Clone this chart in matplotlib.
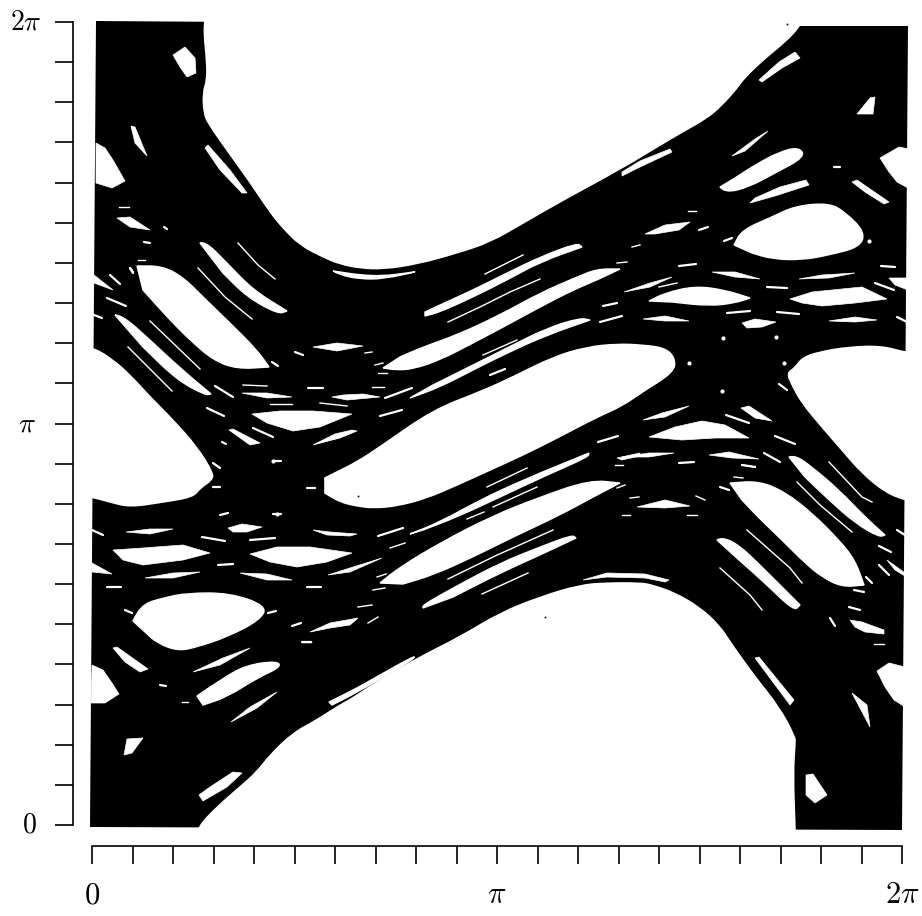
import numpy as np
import matplotlib
matplotlib.use('Agg')
import matplotlib.pyplot as plt
from matplotlib.path import Path
from matplotlib.patches import PathPatch

plt.rcParams['mathtext.fontset'] = 'cm'
plt.rcParams['font.family'] = 'serif'

# everything below is read off the scan, (x, y) in scan units
# x: 92 -> 0, 902 -> 2pi    y: 825 -> 0, 22 -> 2pi
chaotic_sea = [(96,21),(800,26),(908,26),(902,830),(90,827)]

# regular regions, large
upper_island = [(205,16),(205,21),(204,33),(207,63),(207,80),(203,93),(204,113),(208,123),(227,150),(250,182),
    (270,212),(283,228),(300,245),(323,257),(340,264),(360,268),(383,269),(417,264),(457,253),(490,242),
    (523,223),(563,200),(622,168),(655,148),(682,132),(707,118),(722,105),(737,88),(744,78),(765,58),
    (785,42),(800,26),(800,20)]
lower_island = [(198,833),(198,827),(217,807),(240,787),(257,772),(270,755),(293,733),(317,720),(340,705),(350,700),
    (380,680),(420,657),(460,637),(500,613),(540,597),(580,585),(607,583),(640,583),(652,585),(675,593),
    (699,607),(719,625),(732,645),(755,677),(779,707),(795,737),(795,743),(793,773),(795,830),(795,835)]
left_island = [(88,348),(94,348),(113,360),(130,375),(150,397),(173,420),(197,447),(213,473),(212,480),(200,488),
    (193,497),(163,502),(130,507),(110,502),(92,497),(87,497)]
right_island = [(913,353),(907,353),(882,346),(849,347),(819,352),(802,358),(795,368),(787,373),(792,385),(802,403),
    (822,427),(842,450),(862,473),(885,492),(905,500),(911,500)]
centre_island = [(325,478),(337,472),(357,462),(380,447),(433,410),(480,392),(513,377),(553,357),(587,347),
    (617,344),(642,345),(665,348),(675,358),(674,372),(642,392),(622,406),(597,417),(557,438),(523,455),
    (490,470),(457,485),(427,498),(397,506),(373,508),(357,506),(340,502),(325,493)]
large_islands = [upper_island, lower_island, left_island, right_island, centre_island]

# vertices that stay sharp when an outline is rounded
tips = [(383,368),(620,269),(269,367),(137,266),(730,483),(864,585),(380,583),(620,483),(885,535),(800,605),
    (211,394),(287,311),(649,301),(750,298),(790,299),(887,299),(113,550),(210,553),(250,554),(352,553),
    (734,245),(589,453),(410,534),(410,398),(590,320),(582,247),(425,316),(576,538),(423,608)]

# regular regions, medium
lenses = [
    [(96,143),(105,148),(113,160),(125,181),(112,188),(96,183)],
    [(92,665),(103,670),(112,683),(119,694),(105,703),(91,703)],
    [(909,149),(899,147),(880,158),(889,172),(897,182),(908,188)],
    [(905,667),(889,663),(877,671),(885,687),(894,700),(905,707)],
    [(333,271),(340,275),(360,279),(383,279),(420,271),(407,273),(383,276),(360,275),(340,272)],
    [(425,316),(440,312),(473,297),(507,280),(540,262),(582,247),(577,243),(540,257),(507,273),(473,290),(440,305),(425,312)],
    [(383,368),(397,370),(413,369),(440,360),(473,343),(507,325),(540,307),(573,290),(597,280),(620,269),
     (597,269),(577,277),(540,293),(500,315),(457,335),(423,347),(400,357)],
    [(410,398),(440,387),(473,370),(507,353),(547,335),(590,320),(580,318),(547,328),(507,348),(467,368),(433,385)],
    [(332,397),(347,400),(380,397),(363,394),(343,395)],
    [(252,414),(267,423),(293,431),(320,427),(352,414),(313,411),(280,411)],
    [(313,445),(340,438),(357,431),(352,430),(335,434)],
    [(313,347),(337,351),(363,346),(337,343)],
    [(759,80),(762,82),(782,68),(800,58),(795,52),(779,62)],
    [(857,114),(873,114),(875,97),(870,98)],
    [(732,156),(745,151),(768,131),(755,139)],
    [(622,176),(640,167),(672,152),(670,149),(640,161),(622,172)],
    [(720,187),(725,193),(749,187),(775,173),(805,157),(799,147),(779,152),(755,165),(735,178)],
    [(750,203),(775,196),(809,185),(806,180),(780,187),(755,198)],
    [(852,182),(857,180),(889,202),(884,204),(865,192)],
    [(734,245),(742,230),(772,217),(795,206),(829,203),(845,212),(865,232),(860,247),(829,255),(802,260),(772,259),(752,253)],
    [(645,234),(665,225),(690,222),(679,230),(655,234)],
    [(712,272),(735,272),(760,279),(735,277)],
    [(799,279),(822,275),(855,273),(829,278)],
    [(889,278),(907,278),(908,290),(895,285)],
    [(624,292),(650,283),(672,277),(650,287)],
    [(649,301),(665,293),(695,286),(725,290),(750,298),(735,303),(709,306),(672,302)],
    [(790,299),(812,292),(862,287),(887,299),(855,303),(822,306),(802,303)],
    [(643,319),(665,316),(689,321),(665,321)],
    [(742,323),(755,319),(776,322),(762,327),(747,328)],
    [(829,321),(855,317),(877,320),(855,322)],
    [(643,420),(662,413),(689,406),(665,417)],
    [(741,408),(749,406),(772,421),(755,418)],
    [(649,437),(675,427),(702,421),(725,425),(749,438),(715,438),(682,440)],
    [(622,457),(649,453),(674,453),(649,457)],
    [(709,455),(729,452),(759,459),(732,458)],
    [(730,483),(759,481),(785,492),(812,513),(839,540),(855,560),(864,585),(842,587),(822,577),(805,563),(782,540),(759,518),(742,500)],
    [(789,457),(795,455),(812,467),(839,490),(865,517),(885,535),(879,537),(855,523),(829,500),(805,477)],
    [(717,540),(722,537),(739,545),(762,567),(800,605),(794,611),(765,583),(739,560)],
    [(583,580),(607,573),(645,574),(669,580),(665,582),(645,578),(607,577)],
    [(755,658),(759,657),(794,700),(790,705)],
    [(852,693),(867,705),(870,727)],
    [(850,620),(862,622),(884,630),(884,634),(865,632),(855,627)],
    [(887,560),(905,573),(905,576),(895,570)],
    [(637,507),(665,500),(690,506),(665,508)],
    [(806,775),(813,774),(827,795),(815,803),(806,795)],
    [(173,55),(185,47),(195,58),(196,73),(187,77),(180,67)],
    [(131,126),(135,127),(147,156),(135,143)],
    [(205,148),(208,145),(230,170),(247,193),(242,193),(220,170)],
    [(117,218),(130,217),(150,230),(130,227)],
    [(200,243),(205,241),(227,263),(253,290),(287,311),(278,314),(247,297),(223,273)],
    [(137,266),(162,266),(183,277),(203,297),(230,323),(257,350),(269,367),(237,369),(213,360),(190,340),(170,320),(143,290)],
    [(115,315),(122,315),(150,340),(180,368),(211,394),(205,395),(177,380),(143,347)],
    [(94,275),(113,290),(94,283)],
    [(242,393),(267,393),(292,397),(267,398)],
    [(229,430),(233,429),(260,443),(250,445)],
    [(228,528),(242,524),(262,527),(247,532),(233,532)],
    [(126,532),(150,529),(173,529),(150,534)],
    [(313,530),(330,532),(357,534),(350,536),(327,535)],
    [(113,550),(143,548),(183,545),(210,553),(183,560),(143,565),(123,560)],
    [(250,554),(277,547),(310,547),(352,553),(327,562),(297,567),(270,562)],
    [(92,563),(112,574),(92,572)],
    [(145,578),(173,573),(200,572),(173,578)],
    [(240,573),(267,574),(292,580),(267,580)],
    [(328,575),(350,568),(382,558),(350,572)],
    [(133,621),(140,605),(163,598),(187,593),(230,593),(267,606),(260,620),(227,637),(197,647),(178,651),(157,643),(145,632)],
    [(310,632),(330,623),(358,618),(350,625),(330,628)],
    [(113,648),(117,647),(148,669),(140,672),(125,662)],
    [(193,672),(223,658),(250,648),(220,665)],
    [(197,696),(223,678),(247,665),(277,661),(281,667),(257,678),(227,697),(203,705)],
    [(231,722),(250,707),(277,692),(257,708)],
    [(329,702),(350,692),(380,675),(414,656),(415,658),(382,678),(350,696),(332,705)],
    [(127,739),(143,738),(132,753),(124,755)],
    [(199,795),(210,787),(233,772),(242,773),(227,787),(203,801)],
    [(423,608),(423,605),(453,588),(500,563),(540,547),(572,535),(576,538),(540,555),(500,573),(453,597)],
    [(380,583),(400,567),(440,543),(490,517),(540,497),(590,480),(620,483),(593,497),(560,515),(513,537),(473,557),(433,575),(403,584)],
    [(410,534),(440,522),(480,500),(523,480),(589,453),(588,457),(547,475),(500,497),(457,517),(423,530)],
    [(617,458),(640,453),(640,456),(622,460)],
]

# short white flecks
flecks = [
    [(385,398),(412,388)],[(380,416),(402,410)],[(490,375),(505,369)],[(699,230),(708,227)],[(724,241),(732,238)],
    [(679,266),(696,264)],[(881,266),(895,267)],[(875,283),(894,290)],[(727,313),(750,311)],[(777,312),(799,314)],
    [(767,287),(787,288)],[(897,317),(907,322)],[(779,384),(787,390)],[(726,415),(749,423)],[(775,436),(795,444)],
    [(764,453),(780,462)],[(742,465),(755,467)],[(720,487),(729,490)],[(897,530),(905,535)],[(879,546),(891,552)],
    [(879,565),(889,575)],[(866,577),(872,583)],[(854,590),(864,592)],[(849,607),(860,610)],[(830,618),(835,626)],
    [(110,275),(120,284)],[(107,298),(126,306)],[(94,315),(102,318)],[(130,268),(133,273)],[(295,352),(303,355)],
    [(272,362),(278,366)],[(215,386),(233,397)],[(308,388),(323,388)],[(207,408),(224,416)],[(253,428),(273,437)],
    [(222,442),(226,444)],[(213,463),(220,468)],[(273,461),(281,461)],[(213,487),(220,487)],[(307,488),(315,488)],
    [(220,515),(228,513)],[(273,514),(281,514)],[(92,530),(103,535)],[(202,537),(225,541)],[(250,540),(275,538)],
    [(218,565),(233,564)],[(107,587),(121,587)],[(307,587),(321,587)],[(125,610),(132,613)],[(268,613),(276,611)],
    [(292,626),(301,623)],[(302,642),(311,642)],[(160,685),(166,686)],[(834,167),(840,167)],[(679,463),(694,462)],
    [(144,242),(150,243)],[(164,227),(167,229)],[(133,272),(130,268)],[(378,536),(403,528)],[(598,442),(618,436)],
    [(600,322),(622,316)],[(603,306),(617,303)],
]

# hair thin white lines
hairlines = [
    [(485,274),(523,255)],[(448,322),(480,307),(510,292),(540,279)],[(483,355),(517,340)],[(797,482),(820,505),(852,532)],
    [(829,462),(862,497),(872,502)],[(747,530),(790,568),(802,583)],[(720,568),(750,595),(762,610)],[(238,243),(258,265),(275,279)],
    [(198,268),(225,297),(252,319)],[(150,321),(200,369)],[(128,347),(172,391)],[(448,579),(495,556),(553,530)],
    [(487,487),(527,468)],[(493,507),(537,487)],[(467,519),(484,512)],[(482,594),(528,573)],[(390,548),(405,543)],
    [(373,590),(385,588)],[(377,577),(386,574)],[(358,607),(372,605)],[(368,623),(378,617)],[(270,404),(292,404)],
    [(320,403),(347,406)],[(243,385),(267,386)],[(119,207),(129,207)],[(138,260),(145,260)],[(622,515),(630,515)],
    [(687,515),(697,515)],[(630,498),(639,497)],[(696,496),(705,500)],[(734,477),(743,478)],[(874,644),(884,644)],
    [(182,702),(188,702)],[(302,642),(311,642)],[(365,353),(372,352)],[(375,365),(383,363)],[(378,373),(387,373)],
    [(372,387),(384,387)],[(617,263),(627,262)],[(632,247),(640,245)],[(688,211),(696,211)],[(659,287),(677,283)],
    [(615,465),(623,465)],[(617,488),(625,485)],[(742,465),(755,467)],
]

white_dots_x = [723,776,689,784,722,869,273,277]
white_dots_y = [338,337,363,363,391,241,461,514]
specks_x = [787,545,358]
specks_y = [24,617,496]

x_tick_labels = [''] * 21
x_tick_labels[0] = '$0$'
x_tick_labels[10] = r'$\pi$'
x_tick_labels[20] = r'$2\pi$'
y_label_ticks = [20, 10, 0]
y_label_text = [r'$2\pi$', r'$\pi$', '$0$']
y_label_offset = [-47.5, -47, -45]


def conv(pts):
    pts = np.array(pts, dtype=float)
    return (pts[:,0]-92)/810*2*np.pi, (825-pts[:,1])/803*2*np.pi


def rounded(poly):
    # read vertices as control points, so long outlines are not faceted
    expanded = []
    for v in poly:
        expanded.append(v)
        if v in tips:
            expanded.append(v)
    x, y = conv(expanded)
    p = np.column_stack([x, y])
    verts = [p[0]]
    codes = [Path.MOVETO]
    for i in range(1, len(p)-1):
        verts += [p[i], (p[i]+p[i+1])/2]
        codes += [Path.CURVE3, Path.CURVE3]
    verts += [p[-1], p[0]]
    codes += [Path.LINETO, Path.CLOSEPOLY]
    return Path(verts, codes)


fig = plt.figure(figsize=(9.22,9.16), dpi=100)
ax = fig.add_axes([92/922, 1-825/916, 810/922, 803/916])

x, y = conv(chaotic_sea)
ax.fill(x, y, color='k', lw=0, clip_on=False)
for poly in large_islands:
    ax.add_patch(PathPatch(rounded(poly), fc='w', ec='w', lw=1.2, clip_on=False))
for poly in lenses:
    if len(poly) >= 8:
        ax.add_patch(PathPatch(rounded(poly), fc='w', ec='w', lw=1.0, clip_on=False))
    else:
        x, y = conv(poly)
        ax.fill(x, y, color='w', lw=0.5, clip_on=False)
for line in flecks:
    x, y = conv(line)
    ax.plot(x, y, color='w', lw=1.6, solid_capstyle='round', clip_on=False)
for line in hairlines:
    x, y = conv(line)
    ax.plot(x, y, color='w', lw=1.0, clip_on=False)
x, y = conv(list(zip(white_dots_x, white_dots_y)))
ax.plot(x, y, 'o', color='w', ms=3, mew=0, clip_on=False)
x, y = conv(list(zip(specks_x, specks_y)))
ax.plot(x, y, 's', color='k', ms=1.2, mew=0, clip_on=False)

ax.set_xlim(0, 2*np.pi)
ax.set_ylim(0, 2*np.pi)
ticks = np.arange(21)*np.pi/10
ax.set_xticks(ticks)
ax.set_yticks(ticks)
ax.set_xticklabels(x_tick_labels)
ax.set_yticklabels([])
ax.tick_params(axis='x', direction='out', length=13, width=1.2, pad=11, labelsize=22)
ax.tick_params(axis='y', direction='out', length=13, width=1.2)
for t in ax.get_xticklabels():
    t.set_va('center')
for k, s, off in zip(y_label_ticks, y_label_text, y_label_offset):
    ax.annotate(s, (0, ticks[k]), xytext=(off, 0), textcoords='offset points',
                ha='center', va='center', fontsize=20, annotation_clip=False)
ax.spines['top'].set_visible(False)
ax.spines['right'].set_visible(False)
ax.spines['left'].set_position(('outward', 14))
ax.spines['bottom'].set_position(('outward', 15))
ax.spines['left'].set_linewidth(1.2)
ax.spines['bottom'].set_linewidth(1.2)

plt.savefig('out.png', dpi=100)
